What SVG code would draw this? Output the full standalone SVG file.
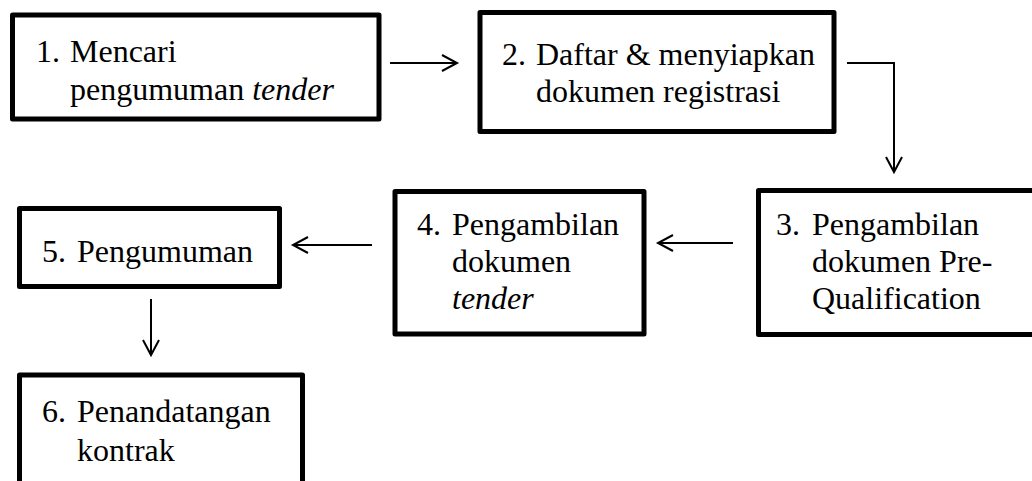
<svg xmlns="http://www.w3.org/2000/svg" width="1032" height="481" viewBox="0 0 1032 481">
<style>
  .box { fill: #ffffff; stroke: #000000; stroke-width: 5; stroke-linejoin: round; }
  .t { font-family: "Liberation Serif", "Times New Roman", serif; font-size: 32px; fill: #000000; }
  .i { font-style: italic; }
  .c { fill: none; stroke: #000000; stroke-width: 2; }
</style>
<defs>
  <marker id="ah" markerUnits="userSpaceOnUse" markerWidth="24" markerHeight="24" viewBox="-20 -12 24 24" refX="0" refY="0" orient="auto">
    <path d="M -15 -8 L 0 0 L -15 8" fill="none" stroke="#000000" stroke-width="2"/>
  </marker>
</defs>
<rect width="1032" height="481" fill="#ffffff"/>
<g id="connectors">
  <line class="c" x1="390" y1="63" x2="457" y2="63" marker-end="url(#ah)"/>
  <polyline class="c" points="847,63 894,63 894,172" marker-end="url(#ah)"/>
  <line class="c" x1="733" y1="243" x2="658" y2="243" marker-end="url(#ah)"/>
  <line class="c" x1="372" y1="245" x2="293" y2="245" marker-end="url(#ah)"/>
  <line class="c" x1="151" y1="299" x2="151" y2="355" marker-end="url(#ah)"/>
</g>
<g id="node1">
  <rect class="box" x="12.5" y="15" width="366.5" height="104"/>
  <text class="t" x="36" y="62">1.</text>
  <text class="t" x="70" y="62">Mencari</text>
  <text class="t" x="70" y="100">pengumuman <tspan class="i">tender</tspan></text>
</g>
<g id="node2">
  <rect class="box" x="480" y="12.5" width="354" height="119"/>
  <text class="t" x="502" y="65">2.</text>
  <text class="t" x="536" y="65">Daftar &amp; menyiapkan</text>
  <text class="t" x="536" y="102">dokumen registrasi</text>
</g>
<g id="node3">
  <rect class="box" x="758.5" y="190.5" width="290" height="144"/>
  <text class="t" x="776" y="235">3.</text>
  <text class="t" x="812" y="235">Pengambilan</text>
  <text class="t" x="812" y="272">dokumen Pre-</text>
  <text class="t" x="812" y="309">Qualification</text>
</g>
<g id="node4">
  <rect class="box" x="395" y="191.5" width="249" height="142.5"/>
  <text class="t" x="417" y="235">4.</text>
  <text class="t" x="452" y="235">Pengambilan</text>
  <text class="t" x="452" y="272">dokumen</text>
  <text class="t i" x="452" y="309">tender</text>
</g>
<g id="node5">
  <rect class="box" x="19.5" y="208.5" width="260" height="78"/>
  <text class="t" x="42" y="262">5.</text>
  <text class="t" x="77" y="262">Pengumuman</text>
</g>
<g id="node6">
  <rect class="box" x="19.5" y="375" width="283" height="120"/>
  <text class="t" x="42" y="422">6.</text>
  <text class="t" x="77" y="422">Penandatangan</text>
  <text class="t" x="77" y="461">kontrak</text>
</g>
</svg>
